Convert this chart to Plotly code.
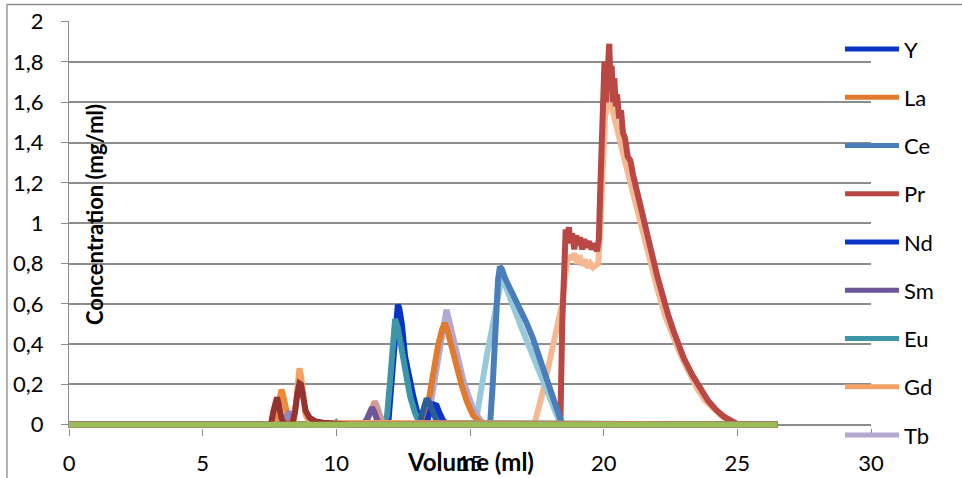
import plotly.graph_objects as go

# ---------------- data ----------------
x_tick_vals = [0, 5, 10, 15, 20, 25, 30]
x_tick_text = ["0", "5", "10", "15", "20", "25", "30"]
y_tick_vals = [0, 0.2, 0.4, 0.6, 0.8, 1.0, 1.2, 1.4, 1.6, 1.8, 2.0]
y_tick_text = ["0", "0,2", "0,4", "0,6", "0,8", "1", "1,2", "1,4", "1,6", "1,8", "2"]

legend_names = ["Y", "La", "Ce", "Pr", "Nd", "Sm", "Eu", "Gd", "Tb"]

# Lu (light salmon, big late peak)
lu_x = [0, 17.4, 17.7, 18.0, 18.3, 18.45, 18.6, 18.7, 18.8, 18.9, 19.0, 19.1, 19.2, 19.3, 19.4, 19.5,
        19.6, 19.7, 19.8, 19.88, 19.95, 20.05, 20.15, 20.22, 20.3, 20.4, 20.55, 20.7, 20.85, 21.0, 21.2,
        21.4, 21.6, 21.8, 22.0, 22.3, 22.6, 22.9, 23.2, 23.5, 23.8, 24.1, 24.4, 24.7, 25.0, 26.5]
lu_y = [0, 0, 0.15, 0.32, 0.49, 0.6, 0.78, 0.84, 0.82, 0.85, 0.8, 0.84, 0.79, 0.82, 0.78, 0.8,
        0.78, 0.79, 0.8, 1.0, 1.3, 1.52, 1.62, 1.7, 1.58, 1.52, 1.42, 1.36, 1.28, 1.2, 1.1,
        1.0, 0.9, 0.8, 0.68, 0.54, 0.43, 0.34, 0.26, 0.18, 0.12, 0.08, 0.045, 0.02, 0.004, 0]

# Pr (red, big late peak)
pr_x = [0, 18.38, 18.45, 18.52, 18.58, 18.63, 18.7, 18.76, 18.82, 18.9, 18.97, 19.05, 19.12, 19.2,
        19.27, 19.35, 19.45, 19.55, 19.65, 19.75, 19.82, 19.88, 19.93, 19.98, 20.03, 20.08, 20.12,
        20.17, 20.21, 20.26, 20.3, 20.35, 20.4, 20.45, 20.5, 20.58, 20.65, 20.72, 20.8, 20.9, 21.0,
        21.1, 21.2, 21.35, 21.5, 21.65, 21.8, 22.0, 22.2, 22.4, 22.6, 22.8, 23.0, 23.3, 23.6, 23.9,
        24.2, 24.5, 24.8, 25.0, 26.5]
pr_y = [0, 0, 0.5, 0.9, 0.97, 0.92, 0.98, 0.9, 0.95, 0.87, 0.94, 0.89, 0.93, 0.87,
        0.92, 0.88, 0.91, 0.87, 0.9, 0.86, 0.92, 1.2, 1.45, 1.62, 1.8, 1.6, 1.75,
        1.85, 1.89, 1.68, 1.78, 1.6, 1.72, 1.58, 1.64, 1.52, 1.56, 1.45, 1.42, 1.33, 1.31,
        1.24, 1.18, 1.1, 1.0, 0.93, 0.85, 0.74, 0.64, 0.55, 0.47, 0.39, 0.33, 0.25, 0.18, 0.12,
        0.075, 0.04, 0.018, 0.003, 0]

# Yb (light aqua, peak ~16.2)
yb_x = [0, 15.2, 15.35, 15.5, 15.65, 15.8, 15.95, 16.1, 16.2, 16.3, 16.45, 16.7, 16.9, 17.2, 17.5,
        17.8, 18.0, 18.2, 18.35, 18.5, 26.5]
yb_y = [0, 0, 0.12, 0.25, 0.36, 0.46, 0.58, 0.7, 0.74, 0.7, 0.64, 0.56, 0.49, 0.39, 0.3,
        0.19, 0.12, 0.05, 0.015, 0, 0]

# Ce (steel blue, peak ~16.1)
ce_x = [0, 15.75, 15.85, 15.95, 16.05, 16.12, 16.2, 16.3, 16.45, 16.7, 16.9, 17.1, 17.35, 17.6,
        17.85, 18.05, 18.25, 18.45, 26.5]
ce_y = [0, 0, 0.2, 0.5, 0.72, 0.785, 0.77, 0.73, 0.69, 0.62, 0.57, 0.51, 0.43, 0.33,
        0.24, 0.16, 0.06, 0, 0]

# Tb (lavender, peak ~14.1)
tb_x = [0, 13.35, 13.5, 13.65, 13.8, 13.95, 14.05, 14.12, 14.2, 14.35, 14.55, 14.75, 14.95, 15.15,
        15.35, 15.55, 26.5]
tb_y = [0, 0, 0.08, 0.2, 0.33, 0.47, 0.55, 0.57, 0.53, 0.44, 0.32, 0.22, 0.14, 0.07,
        0.03, 0, 0]

# La (orange, peak ~14.05)
la_x = [0, 13.25, 13.35, 13.5, 13.65, 13.8, 13.95, 14.05, 14.15, 14.3, 14.5, 14.7, 14.9, 15.1,
        15.3, 15.5, 26.5]
la_y = [0, 0, 0.04, 0.16, 0.28, 0.39, 0.47, 0.505, 0.47, 0.39, 0.28, 0.19, 0.11, 0.05,
        0.02, 0, 0]

# Y (blue, peak ~12.3)
y_x = [0, 11.9, 11.95, 12.05, 12.15, 12.25, 12.3, 12.35, 12.45, 12.57, 12.75, 12.88, 13.07, 13.2,
       13.3, 26.5]
y_y = [0, 0, 0.02, 0.2, 0.42, 0.57, 0.595, 0.58, 0.5, 0.34, 0.21, 0.14, 0.04, 0.005,
       0, 0]

# Eu (teal, peak ~12.2, tiny blip at 10)
eu_x = [0, 9.9, 10.0, 10.1, 11.8, 11.9, 12.0, 12.1, 12.2, 12.3, 12.45, 12.6, 12.76, 12.94, 13.1, 26.5]
eu_y = [0, 0, 0.012, 0, 0, 0.05, 0.2, 0.42, 0.525, 0.48, 0.36, 0.24, 0.14, 0.06, 0.01, 0]

# Nd (blue, small peak ~13.65)
nd_x = [0, 13.35, 13.45, 13.55, 13.65, 13.75, 13.85, 14.0, 14.15, 26.5]
nd_y = [0, 0, 0.04, 0.085, 0.1, 0.095, 0.06, 0.02, 0, 0]

# Ho (dark blue, small peak ~13.4)
ho_x = [0, 13.1, 13.2, 13.3, 13.38, 13.48, 13.6, 13.75, 13.9, 26.5]
ho_y = [0, 0, 0.05, 0.11, 0.13, 0.11, 0.06, 0.02, 0, 0]

# Er (pink, small peak ~11.4)
er_x = [0, 11.1, 11.25, 11.35, 11.43, 11.5, 11.6, 11.75, 26.5]
er_y = [0, 0, 0.05, 0.1, 0.115, 0.1, 0.05, 0, 0]

# Sm (purple, small peak ~11.3)
sm_x = [0, 11.0, 11.15, 11.25, 11.33, 11.42, 11.52, 11.65, 26.5]
sm_y = [0, 0, 0.03, 0.07, 0.085, 0.065, 0.025, 0, 0]

# Gd (light orange, peak ~8.6)
gd_x = [0, 8.4, 8.5, 8.57, 8.62, 8.68, 8.75, 8.85, 9.0, 26.5]
gd_y = [0, 0, 0.12, 0.25, 0.28, 0.24, 0.13, 0.05, 0.01, 0]

# Dy (orange, peak ~7.93)
dy_x = [0, 7.7, 7.8, 7.88, 7.95, 8.02, 8.1, 8.2, 8.3, 8.4, 8.5, 26.5]
dy_y = [0, 0, 0.08, 0.16, 0.175, 0.14, 0.07, 0.03, 0.035, 0.01, 0, 0]

# Tm (light purple, small peak ~8.25)
tm_x = [0, 8.05, 8.15, 8.24, 8.32, 8.42, 26.5]
tm_y = [0, 0, 0.045, 0.065, 0.04, 0, 0]

# maroon series, double peak ~7.78 / ~8.64
mr_x = [0, 7.55, 7.65, 7.72, 7.78, 7.85, 7.95, 8.05, 8.2, 8.35, 8.45, 8.55, 8.62, 8.68, 8.75, 8.85,
        9.0, 9.2, 9.5, 10.0, 10.5, 26.5]
mr_y = [0, 0, 0.07, 0.13, 0.135, 0.1, 0.03, 0.005, 0.0, 0.005, 0.06, 0.16, 0.205, 0.2, 0.14, 0.07,
        0.035, 0.018, 0.01, 0.005, 0, 0]

# Sc (green, flat baseline)
sc_x = [0, 26.5]
sc_y = [0, 0]

# draw order: bottom -> top
series = [
    ("Lu", lu_x, lu_y, "#F6B893"),
    ("Pr", pr_x, pr_y, "#B94845"),
    ("Yb", yb_x, yb_y, "#97C9DA"),
    ("Ce", ce_x, ce_y, "#4A7EBB"),
    ("Tb", tb_x, tb_y, "#B2A8D0"),
    ("La", la_x, la_y, "#E07B2E"),
    ("Y", y_x, y_y, "#0A34C8"),
    ("Eu", eu_x, eu_y, "#3D95A8"),
    ("Nd", nd_x, nd_y, "#0A34C8"),
    ("Ho", ho_x, ho_y, "#2D5C96"),
    ("Er", er_x, er_y, "#D49A98"),
    ("Sm", sm_x, sm_y, "#6D5697"),
    ("Gd", gd_x, gd_y, "#F4A164"),
    ("Dy", dy_x, dy_y, "#EE8A3A"),
    ("Tm", tm_x, tm_y, "#9685BC"),
    ("Hf", mr_x, mr_y, "#963331"),
    ("Sc", sc_x, sc_y, "#9BBB59"),
]
color_of = {name: col for name, _, _, col in series}

FONT = "Lato, 'Open Sans', sans-serif"

fig = go.Figure()
for name, xs, ys, col in series:
    fig.add_trace(go.Scatter(
        x=xs, y=ys, mode="lines", name=name, showlegend=False,
        line=dict(color=col, width=6, shape="linear"),
        hoverinfo="x+y+name",
    ))

# plot-area geometry (px) used for the paper-coordinate legend and frame
W, H = 962, 478
ML, MR, MT, MB = 69, 91, 21, 50
PW, PH = W - ML - MR, H - MT - MB


def px2paper_x(px):
    return (px - ML) / PW


def px2paper_y(py):
    return (H - MB - py) / PH


shapes = []
annotations = []
# chart-area frame (Excel style)
shapes.append(dict(type="rect", xref="paper", yref="paper",
                   x0=px2paper_x(7), x1=px2paper_x(975), y0=px2paper_y(490), y1=px2paper_y(4.5),
                   line=dict(color="#8C8C8C", width=1.3), fillcolor="rgba(0,0,0,0)", layer="below"))

# legend (Excel-like long line swatches)
leg_y0, leg_dy = 49, 48.25
for i, name in enumerate(legend_names):
    py = leg_y0 + i * leg_dy
    shapes.append(dict(type="line", xref="paper", yref="paper",
                       x0=px2paper_x(845), x1=px2paper_x(899), y0=px2paper_y(py), y1=px2paper_y(py),
                       line=dict(color=color_of[name], width=5), layer="above"))
    annotations.append(dict(xref="paper", yref="paper", x=px2paper_x(902), y=px2paper_y(py),
                            text=name, showarrow=False, xanchor="left", yanchor="middle",
                            font=dict(family=FONT, size=22, color="#000000")))

# axis titles (placed like the reference, overlapping the plot)
annotations.append(dict(xref="paper", yref="paper", x=px2paper_x(95), y=px2paper_y(215),
                        text="<b>Concentration (mg/ml)</b>", textangle=-90, showarrow=False,
                        xanchor="center", yanchor="middle",
                        font=dict(family=FONT, size=22, color="#000000")))
annotations.append(dict(xref="paper", yref="paper", x=0.5, y=px2paper_y(462),
                        text="<b>Volume (ml)</b>", showarrow=False,
                        xanchor="center", yanchor="middle",
                        font=dict(family=FONT, size=24, color="#000000")))

fig.update_layout(
    width=W, height=H,
    margin=dict(l=ML, r=MR, t=MT, b=MB, pad=0, autoexpand=False),
    paper_bgcolor="white", plot_bgcolor="white",
    showlegend=False,
    font=dict(family=FONT, size=22, color="#000000"),
    shapes=shapes, annotations=annotations,
    xaxis=dict(range=[0, 30], tickvals=x_tick_vals, ticktext=x_tick_text, automargin=False,
               showgrid=False, zeroline=False, showline=False,
               ticks="outside", ticklen=7, tickwidth=1.3, tickcolor="#8C8C8C",
               ticklabelstandoff=9, tickfont=dict(family=FONT, size=22)),
    yaxis=dict(range=[-0.016, 2.003], tickvals=y_tick_vals, ticktext=y_tick_text, automargin=False,
               showgrid=True, gridcolor="#8C8C8C", gridwidth=1.6,
               zeroline=False, showline=True, linecolor="#8C8C8C", linewidth=1.3,
               ticks="outside", ticklen=7, tickwidth=1.3, tickcolor="#8C8C8C",
               ticklabelstandoff=13, tickfont=dict(family=FONT, size=22)),
)

fig.write_html("out.html", config={"displayModeBar": False},
               post_script="document.body.style.margin='0';")
